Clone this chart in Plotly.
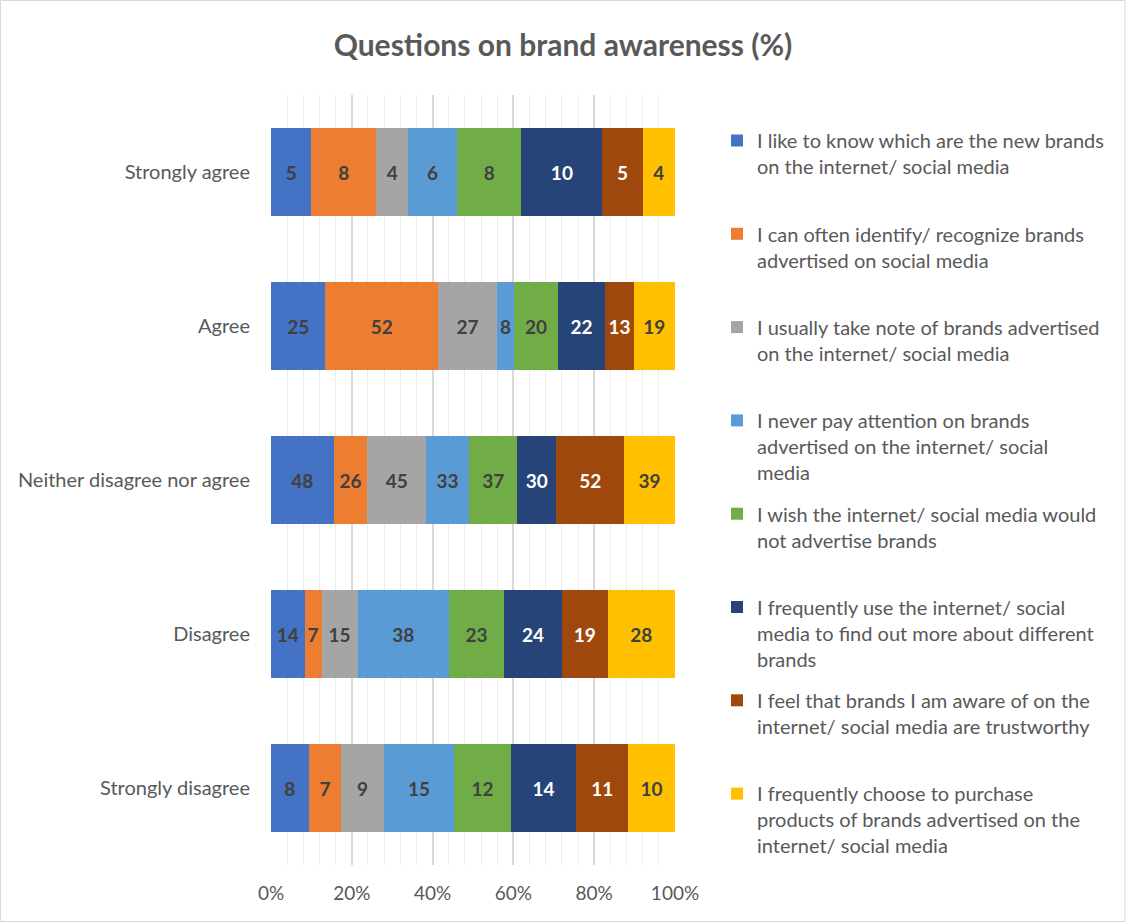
import plotly.graph_objects as go

# Response categories (top to bottom)
categories = ["Strongly agree", "Agree", "Neither disagree nor agree",
              "Disagree", "Strongly disagree"]

# Survey statements (legend entries), wrapped as in the legend
statements = [
    "I like to know which are the new brands<br>on the internet/ social media",
    "I can often identify/ recognize brands<br>advertised on social media",
    "I usually take note of brands advertised<br>on the internet/ social media",
    "I never pay attention on brands<br>advertised on the internet/ social<br>media",
    "I wish the internet/ social media would<br>not advertise brands",
    "I frequently use the internet/ social<br>media to find out more about different<br>brands",
    "I feel that brands I am aware of on the<br>internet/ social media are trustworthy",
    "I frequently choose to purchase<br>products of brands advertised on the<br>internet/ social media",
]

# Counts per statement, one value per category (top to bottom)
like_to_know = [5, 25, 48, 14, 8]
identify_brands = [8, 52, 26, 7, 7]
take_note = [4, 27, 45, 15, 9]
never_pay_attention = [6, 8, 33, 38, 15]
wish_no_ads = [8, 20, 37, 23, 12]
find_out_more = [10, 22, 30, 24, 14]
trustworthy = [5, 13, 52, 19, 11]
purchase = [4, 19, 39, 28, 10]

series = [like_to_know, identify_brands, take_note, never_pay_attention,
          wish_no_ads, find_out_more, trustworthy, purchase]

colors = ["#4472C4", "#ED7D31", "#A5A5A5", "#5B9BD5",
          "#70AD47", "#264478", "#9E480E", "#FFC000"]
label_colors = ["#404040", "#404040", "#404040", "#404040",
                "#404040", "#FFFFFF", "#FFFFFF", "#404040"]

FONT = "Lato"
GREY = "#595959"

fig = go.Figure()
for i, (name, vals) in enumerate(zip(statements, series)):
    # pad each legend entry to three lines so the entries sit evenly
    n_lines = name.count("<br>") + 1
    legend_name = name + "<br> " * (3 - n_lines)
    fig.add_trace(go.Bar(
        y=categories,
        x=vals,
        orientation="h",
        name=legend_name,
        legendgroup=f"g{i}",
        marker=dict(color=colors[i], line=dict(width=0)),
        text=[str(v) for v in vals],
        texttemplate="%{text}",
        textposition="inside",
        insidetextanchor="middle",
        textangle=0,
        insidetextfont=dict(family=FONT, size=19, color=label_colors[i],
                            weight="bold"),
        hovertemplate="%{y}: %{text}<extra></extra>",
    ))

W, H = 1126, 922
ML, MR, MT, MB = 271, 451, 95, 57
pw, ph = W - ML - MR, H - MT - MB

fig.update_layout(
    width=W, height=H,
    margin=dict(l=ML, r=MR, t=MT, b=MB),
    barmode="stack",
    barnorm="percent",
    bargap=0.43,
    paper_bgcolor="white",
    plot_bgcolor="white",
    font=dict(family=FONT, color=GREY, size=19),
    uniformtext=dict(minsize=19, mode="show"),
    title=dict(
        text="Questions on brand awareness (%)",
        x=0.5, xref="container", xanchor="center",
        y=1 - 45 / H, yref="container", yanchor="middle",
        font=dict(family=FONT, size=30, color=GREY, weight="bold"),
    ),
    xaxis=dict(
        range=[0, 100],
        dtick=20,
        ticksuffix="%",
        showgrid=True,
        gridcolor="#D9D9D9",
        gridwidth=1.5,
        zeroline=False,
        showline=False,
        ticks="outside",
        ticklen=11,
        tickcolor="rgba(0,0,0,0)",
        tickfont=dict(family=FONT, size=19, color=GREY),
        minor=dict(dtick=4, showgrid=True, gridcolor="#EDEDED", gridwidth=1,
                   ticks=""),
        fixedrange=True,
    ),
    yaxis=dict(
        autorange="reversed",
        showgrid=False,
        zeroline=False,
        showline=False,
        ticks="outside",
        ticklen=16,
        tickcolor="rgba(0,0,0,0)",
        tickfont=dict(family=FONT, size=20, color=GREY),
        fixedrange=True,
    ),
    legend=dict(
        x=(717 - ML) / pw, xanchor="left",
        y=1 - (121 - MT) / ph, yanchor="top",
        traceorder="grouped",
        tracegroupgap=12.3,
        valign="top",
        font=dict(family=FONT, size=20, color=GREY),
        bgcolor="rgba(0,0,0,0)",
    ),
    shapes=[dict(
        type="rect", xref="paper", yref="paper",
        x0=-ML / pw + 0.5 / pw, x1=1 + (MR - 1) / pw,
        y0=-MB / ph + 0.5 / ph, y1=1 + (MT - 0.5) / ph,
        line=dict(color="#D9D9D9", width=1),
        fillcolor="rgba(0,0,0,0)",
        layer="below",
    )],
)

fig.write_html("out.html")
